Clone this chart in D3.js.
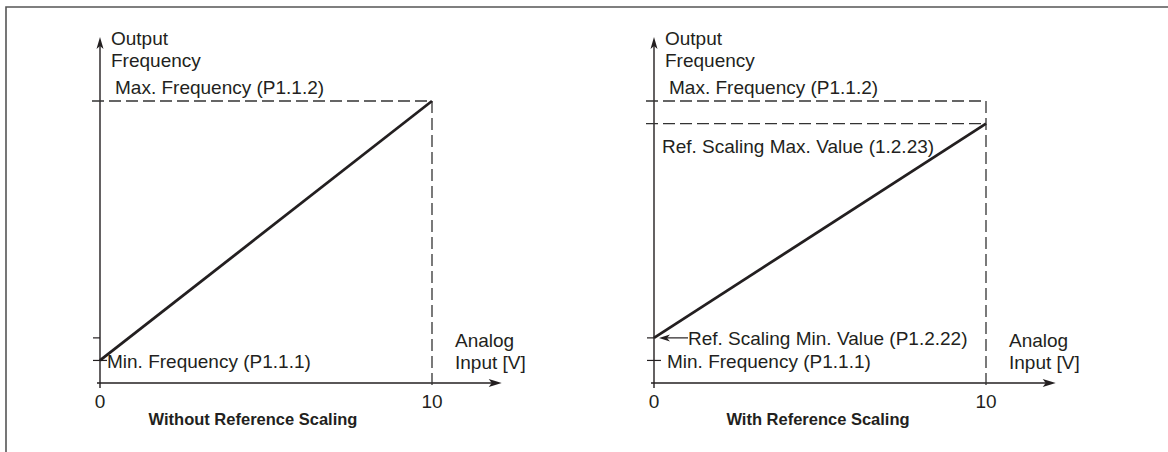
<!DOCTYPE html>
<html><head><meta charset="utf-8">
<script src="https://cdn.jsdelivr.net/npm/d3@7"></script>
<style>
html,body{margin:0;padding:0;background:#fff;}
svg text{font-family:"Liberation Sans",Arial,sans-serif;fill:#231f20;}
</style></head>
<body>
<svg id="c" width="1168" height="452"></svg>
<script>
// ---- data ----
const inputRange = [0, 10];              // analog input [V]
const xTickValues = [0, 10];
const xTickLabels = ["0", "10"];
const minFrequency = 8;                  // relative output level
const maxFrequency = 100;
const refScalingMin = 16;
const refScalingMax = 92;
const lineWithout = [minFrequency, maxFrequency];   // output at 0 V and 10 V
const lineWith = [refScalingMin, refScalingMax];
const panelTitles = ["Without Reference Scaling", "With Reference Scaling"];
const axisTitleY = ["Output", "Frequency"];
const axisTitleX = ["Analog", "Input [V]"];

const svg = d3.select("#c");
const ink = "#231f20";
const fs = 19;

// frame
svg.append("path").attr("d","M6,452 L6,7 L1168,7").attr("fill","none").attr("stroke","#555").attr("stroke-width",1.6);

function panel(ox, cfg){
  const g = svg.append("g").attr("transform",`translate(${ox},0)`);
  const x = d3.scaleLinear().domain(inputRange).range([0, 332]);
  const y = d3.scaleLinear().domain([0, maxFrequency]).range([383, 101]);
  const xEnd = x(12.1), yEnd = y(122.7);

  // axes
  g.append("line").attr("x1",-3).attr("x2",xEnd-8).attr("y1",y(0)).attr("y2",y(0)).attr("stroke",ink).attr("stroke-width",1.4);
  g.append("path").attr("d",`M${xEnd},${y(0)} L${xEnd-13},${y(0)-4} L${xEnd-10},${y(0)} L${xEnd-13},${y(0)+4} Z`).attr("fill",ink);
  g.append("line").attr("x1",x(0)).attr("x2",x(0)).attr("y1",y(0)+5).attr("y2",yEnd+8).attr("stroke",ink).attr("stroke-width",1.4);
  g.append("path").attr("d",`M${x(0)},${yEnd} L${x(0)-3.5},${yEnd+12} L${x(0)},${yEnd+9} L${x(0)+3.5},${yEnd+12} Z`).attr("fill",ink);

  // x tick labels
  g.selectAll("text.xt").data(xTickValues).enter().append("text")
    .attr("x",d=>x(d)).attr("y",408).attr("text-anchor","middle").attr("font-size",fs)
    .text((d,i)=>xTickLabels[i]);

  // y ticks
  g.append("line").attr("x1",x(0)-7).attr("x2",x(0)+7).attr("y1",y(minFrequency)).attr("y2",y(minFrequency)).attr("stroke",ink).attr("stroke-width",1.2);
  g.append("line").attr("x1",x(0)-7).attr("x2",x(0)).attr("y1",y(refScalingMin)).attr("y2",y(refScalingMin)).attr("stroke",ink).attr("stroke-width",1.2);

  // dashed guides
  const dash = "12,5";
  g.append("line").attr("x1",x(0)-8).attr("x2",x(10)).attr("y1",y(maxFrequency)).attr("y2",y(maxFrequency))
    .attr("stroke","#333").attr("stroke-width",1.3).attr("stroke-dasharray",dash);
  g.append("line").attr("x1",x(10)).attr("x2",x(10)).attr("y1",y(maxFrequency)).attr("y2",y(0)+4)
    .attr("stroke","#333").attr("stroke-width",1.3).attr("stroke-dasharray",dash);
  if(cfg.with){
    g.append("line").attr("x1",x(0)-8).attr("x2",x(10)).attr("y1",y(refScalingMax)).attr("y2",y(refScalingMax))
      .attr("stroke","#333").attr("stroke-width",1.3).attr("stroke-dasharray",dash);
  }

  // main line
  const vals = cfg.with ? lineWith : lineWithout;
  g.append("path").datum(inputRange.map((v,i)=>[v, vals[i]]))
    .attr("d", d3.line().x(d=>x(d[0])).y(d=>y(d[1])))
    .attr("fill","none").attr("stroke",ink).attr("stroke-width",2.8);

  // axis titles
  axisTitleY.forEach((t,i)=>g.append("text").attr("x",x(0)+11).attr("y",45+i*22).attr("font-size",fs).text(t));
  axisTitleX.forEach((t,i)=>g.append("text").attr("x",x(10)+23).attr("y",347+i*22).attr("font-size",fs).text(t));

  // labels
  g.append("text").attr("x",x(0)+15).attr("y",y(maxFrequency)-7).attr("font-size",fs).text("Max. Frequency (P1.1.2)");
  g.append("text").attr("x",x(0)+(cfg.with?13:7)).attr("y",y(minFrequency)+8).attr("font-size",fs).text("Min. Frequency (P1.1.1)");
  if(cfg.with){
    g.append("text").attr("x",x(0)+8).attr("y",y(refScalingMax)+29).attr("font-size",fs).text("Ref. Scaling Max. Value (1.2.23)");
    const ay = y(refScalingMin);
    g.append("line").attr("x1",x(0)+12).attr("x2",x(0)+34).attr("y1",ay).attr("y2",ay).attr("stroke",ink).attr("stroke-width",1.2);
    g.append("path").attr("d",`M${x(0)+5},${ay} L${x(0)+16},${ay-3.5} L${x(0)+13},${ay} L${x(0)+16},${ay+3.5} Z`).attr("fill",ink);
    g.append("text").attr("x",x(0)+34).attr("y",ay+7).attr("font-size",fs).text("Ref. Scaling Min. Value (P1.2.22)");
  }

  // title
  g.append("text").attr("x",cfg.titleX).attr("y",425).attr("text-anchor","middle")
    .attr("font-size",16.5).attr("font-weight","bold").text(cfg.title);
}

panel(100, {with:false, title:panelTitles[0], titleX:153});
panel(654, {with:true, title:panelTitles[1], titleX:164});
</script>
</body></html>
